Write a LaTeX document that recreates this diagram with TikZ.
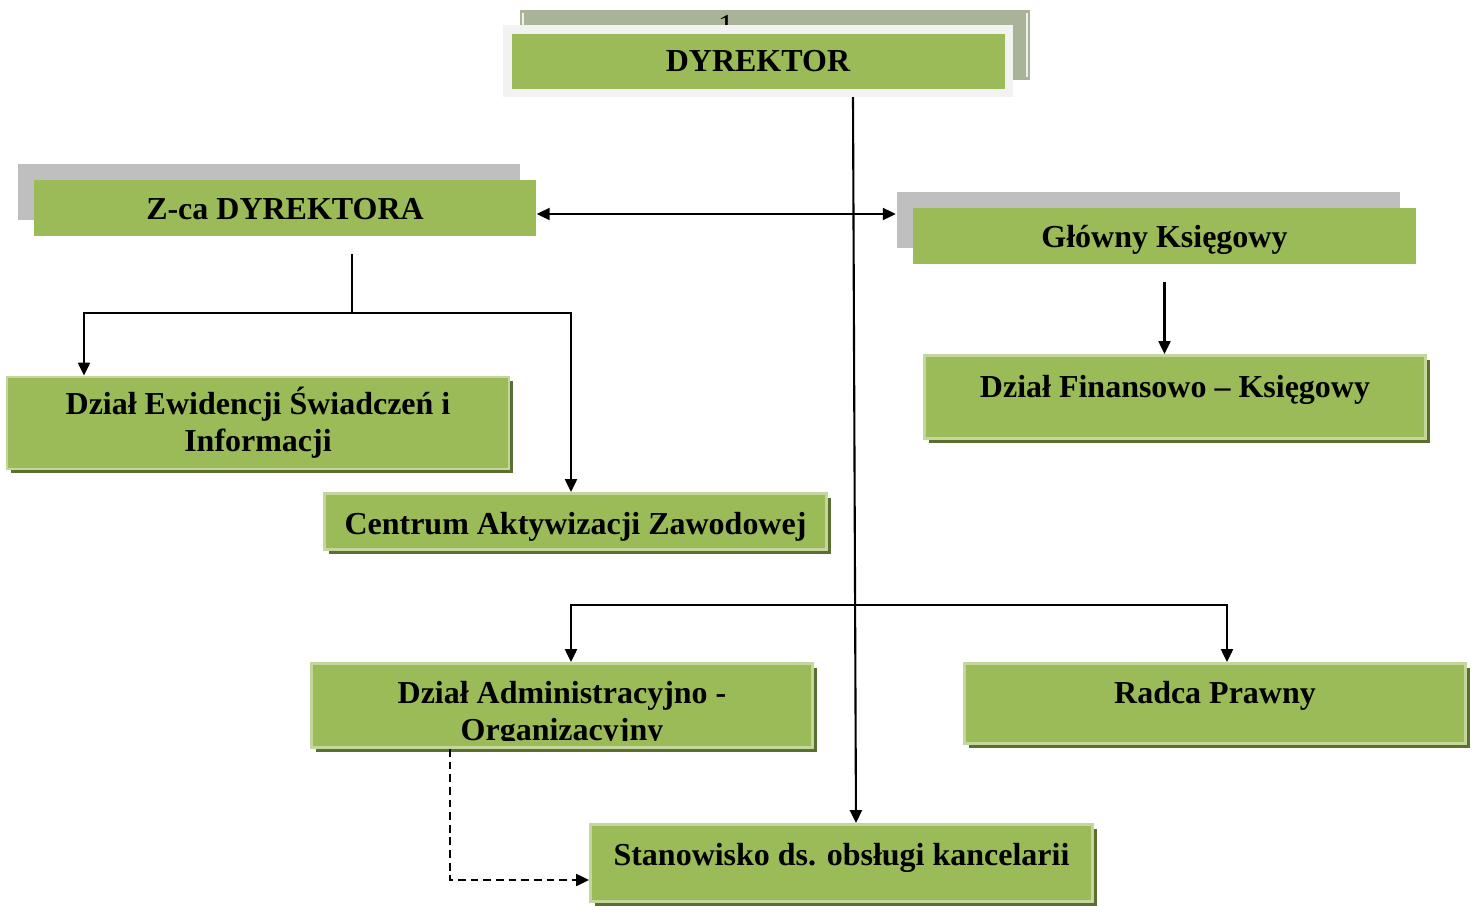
\documentclass[tikz,border=0pt]{standalone}
\usepackage{fontspec}
\setmainfont{Liberation Serif}
\usetikzlibrary{arrows.meta,shadows}
\definecolor{zielony}{HTML}{9BBB59}
\definecolor{jasny}{HTML}{C3D69B}
\definecolor{ciemny}{HTML}{5A6F30}
\definecolor{szary}{HTML}{BFBFBF}
\definecolor{oliwka}{HTML}{A8B397}
\definecolor{ramka}{HTML}{F2F2F2}
\tikzset{
  dzial/.style={rectangle, fill=zielony, draw=jasny, line width=0.8pt, inner sep=0pt, align=center,
    drop shadow={shadow xshift=0.04cm, shadow yshift=-0.04cm, fill=ciemny, opacity=1}},
  kier/.style={rectangle, fill=zielony, inner sep=0pt, text height=7.5pt, text depth=1pt,
    drop shadow={shadow xshift=-0.165cm, shadow yshift=0.16cm, fill=szary, opacity=1}},
  linia/.style={line width=0.6pt, >={Triangle[length=1.3mm,width=1.2mm]}},
  wgore/.style={text height=6.5pt, text depth=#1},
}
\begin{document}
\begin{tikzpicture}[font=\fontsize{9.1}{10.5}\selectfont\bfseries]
\useasboundingbox (0,0) rectangle (14.77,9.05);
% dyrektor
\fill[oliwka] (5.20,8.95) rectangle (10.30,8.25);
\draw[white!80!oliwka, line width=0.3pt] (5.23,8.92)--(5.23,8.28);
\draw[white!80!oliwka, line width=0.3pt] (10.27,8.92)--(10.27,8.28);
\node[anchor=north, inner sep=0pt, font=\fontsize{9.1}{10.5}\selectfont] (nr) at (7.26,8.90) {1};
\node[rectangle, fill=zielony, draw=ramka, line width=0.085cm, inner sep=0pt,
  minimum width=5.015cm, minimum height=0.635cm] (dyr) at (7.58,8.44) {DYREKTOR};
% zastepca i ksiegowy
\node[kier, minimum width=5.02cm, minimum height=0.56cm] (zca) at (2.85,6.97) {Z-ca DYREKTORA};
\node[kier, minimum width=5.03cm, minimum height=0.56cm] (gl) at (11.645,6.69) {Główny Księgowy};
% dzialy
\node[dzial, minimum width=5.02cm, minimum height=0.92cm] (ewid) at (2.58,4.82) {Dział Ewidencji Świadczeń i\\Informacji};
\node[dzial, text height=7.8pt, text depth=0.3pt, minimum width=5.02cm, minimum height=0.56cm] (cen) at (5.755,3.835) {Centrum Aktywizacji Zawodowej};
\node[dzial, wgore=6.3pt, minimum width=5.01cm, minimum height=0.83cm] (fin) at (11.75,5.08) {Dział Finansowo -- Księgowy};
\node[dzial, minimum width=5.01cm, minimum height=0.84cm] (adm) at (5.62,1.995) {};
\begin{scope}
\clip (3.10,1.645) rectangle (8.14,2.43);
\node[align=center, inner sep=0pt] (admtxt) at ([yshift=-0.09cm]adm.center) {Dział Administracyjno -\\Organizacyjny};
\end{scope}
\node[dzial, wgore=6.3pt, minimum width=5.01cm, minimum height=0.80cm] (rad) at (12.15,2.015) {Radca Prawny};
\node[dzial, wgore=5pt, minimum width=5.02cm, minimum height=0.77cm] (stan) at (8.415,0.42) {Stanowisko ds. obsługi kancelarii};
% polaczenia
\coordinate (dv) at ([xshift=0.95cm]dyr.south);
\draw[linia,->] (dv)--([xshift=0.145cm]stan.north);
\coordinate (za) at ([yshift=-0.06cm]zca.east);
\coordinate (gb) at ([xshift=-0.165cm]gl.west);
\draw[linia,<->] (za)--(za -| gb);
\coordinate (zt) at ([xshift=0.67cm,yshift=-0.17cm]zca.south);
\coordinate (zbus) at (3.52,5.92);
\draw[linia] (zt)--(zbus);
\draw[linia,<->] ([xshift=-1.74cm]ewid.north) |- (zbus) -| ([xshift=-0.045cm]cen.north);
\draw[linia,->] ([yshift=-0.17cm]gl.south)--(gl.south |- fin.north);
\coordinate (bl) at (5.71,3.00);
\coordinate (br) at (12.27,3.00);
\draw[linia,<->] (bl |- adm.north)--(bl)--(br)--(br |- rad.north);
\draw[linia,->,dash pattern=on 2.2pt off 1.4pt] ([xshift=-1.12cm]adm.south) |- ([yshift=-0.17cm]stan.west);
\end{tikzpicture}
\end{document}
